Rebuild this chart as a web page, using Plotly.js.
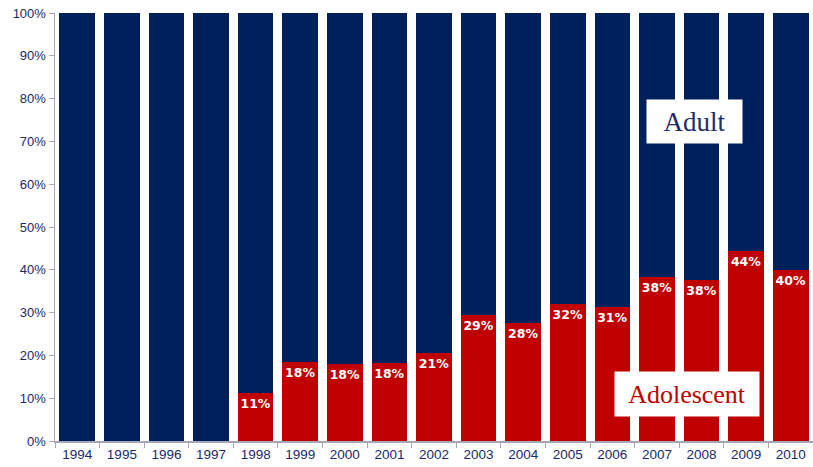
<!DOCTYPE html>
<html>
<head>
<meta charset="utf-8">
<script src="https://cdn.plot.ly/plotly-3.0.1.min.js"></script>
<style>html,body{margin:0;padding:0;background:#fff;}#chart{width:813px;height:467px;}</style>
</head>
<body>
<div id="chart"></div>
<script>
const years = ['1994','1995','1996','1997','1998','1999','2000','2001','2002','2003','2004','2005','2006','2007','2008','2009','2010'];
const adolescent = [0,0,0,0,11.2,18.4,18.1,18.3,20.6,29.4,27.6,31.9,31.4,38.3,37.6,44.3,39.9];
const adult = [100,100,100,100,88.8,81.6,81.9,81.7,79.4,70.6,72.4,68.1,68.6,61.7,62.4,55.7,60.1];
const adolescentLabels = ['','','','','11%','18%','18%','18%','21%','29%','28%','32%','31%','38%','38%','44%','40%'];
const yTicks = [0,10,20,30,40,50,60,70,80,90,100];

const traces = [
  {type:'bar', x:years, y:adolescent, name:'Adolescent', marker:{color:'#C00000'},
   text:adolescentLabels, textposition:'inside', insidetextanchor:'end', textangle:0, constraintext:'none',
   textfont:{family:'DejaVu Sans', size:12.5, color:'#ffffff', weight:'bold'},
   hoverinfo:'skip', cliponaxis:false},
  {type:'bar', x:years, y:adult, name:'Adult', marker:{color:'#00205C'}, hoverinfo:'skip'}
];
const layout = {
  width:813, height:467, barmode:'stack', bargap:0.2, showlegend:false,
  margin:{l:55, r:0, t:13, b:26},
  paper_bgcolor:'#fff', plot_bgcolor:'#fff',
  font:{family:'Liberation Sans, Arial', color:'#1F2D6B', size:13},
  xaxis:{type:'category', showline:true, linecolor:'#A6A6B6', linewidth:1.5, ticks:'outside', ticklen:5, tickcolor:'#A6A6B6', tickson:'boundaries', tickfont:{size:13.5, color:'#1B2A66'}, showgrid:false, zeroline:false},
  yaxis:{range:[0,100], tickvals:yTicks, ticktext:yTicks.map(v=>v+'%'), showline:true, linecolor:'#A6A6B6', linewidth:1.5, ticks:'outside', ticklen:5, tickcolor:'#A6A6B6', showgrid:false, zeroline:false, tickfont:{size:13, color:'#1B2A66'}},
  annotations:[
    {xref:'paper', yref:'paper', x:(694-55)/758, y:(441-122)/428, text:'Adult', showarrow:false, bgcolor:'#fff', font:{family:'Liberation Serif, Times New Roman', size:27, color:'#1F2D6B'}, width:93, height:41, xanchor:'center', yanchor:'middle'},
    {xref:'paper', yref:'paper', x:(687-55)/758, y:(441-394)/428, text:'Adolescent', showarrow:false, bgcolor:'#fff', font:{family:'Liberation Serif, Times New Roman', size:26, color:'#C00000'}, width:142, height:42, xanchor:'center', yanchor:'middle'}
  ]
};
Plotly.newPlot('chart', traces, layout, {displayModeBar:false, staticPlot:true});
</script>
</body>
</html>
